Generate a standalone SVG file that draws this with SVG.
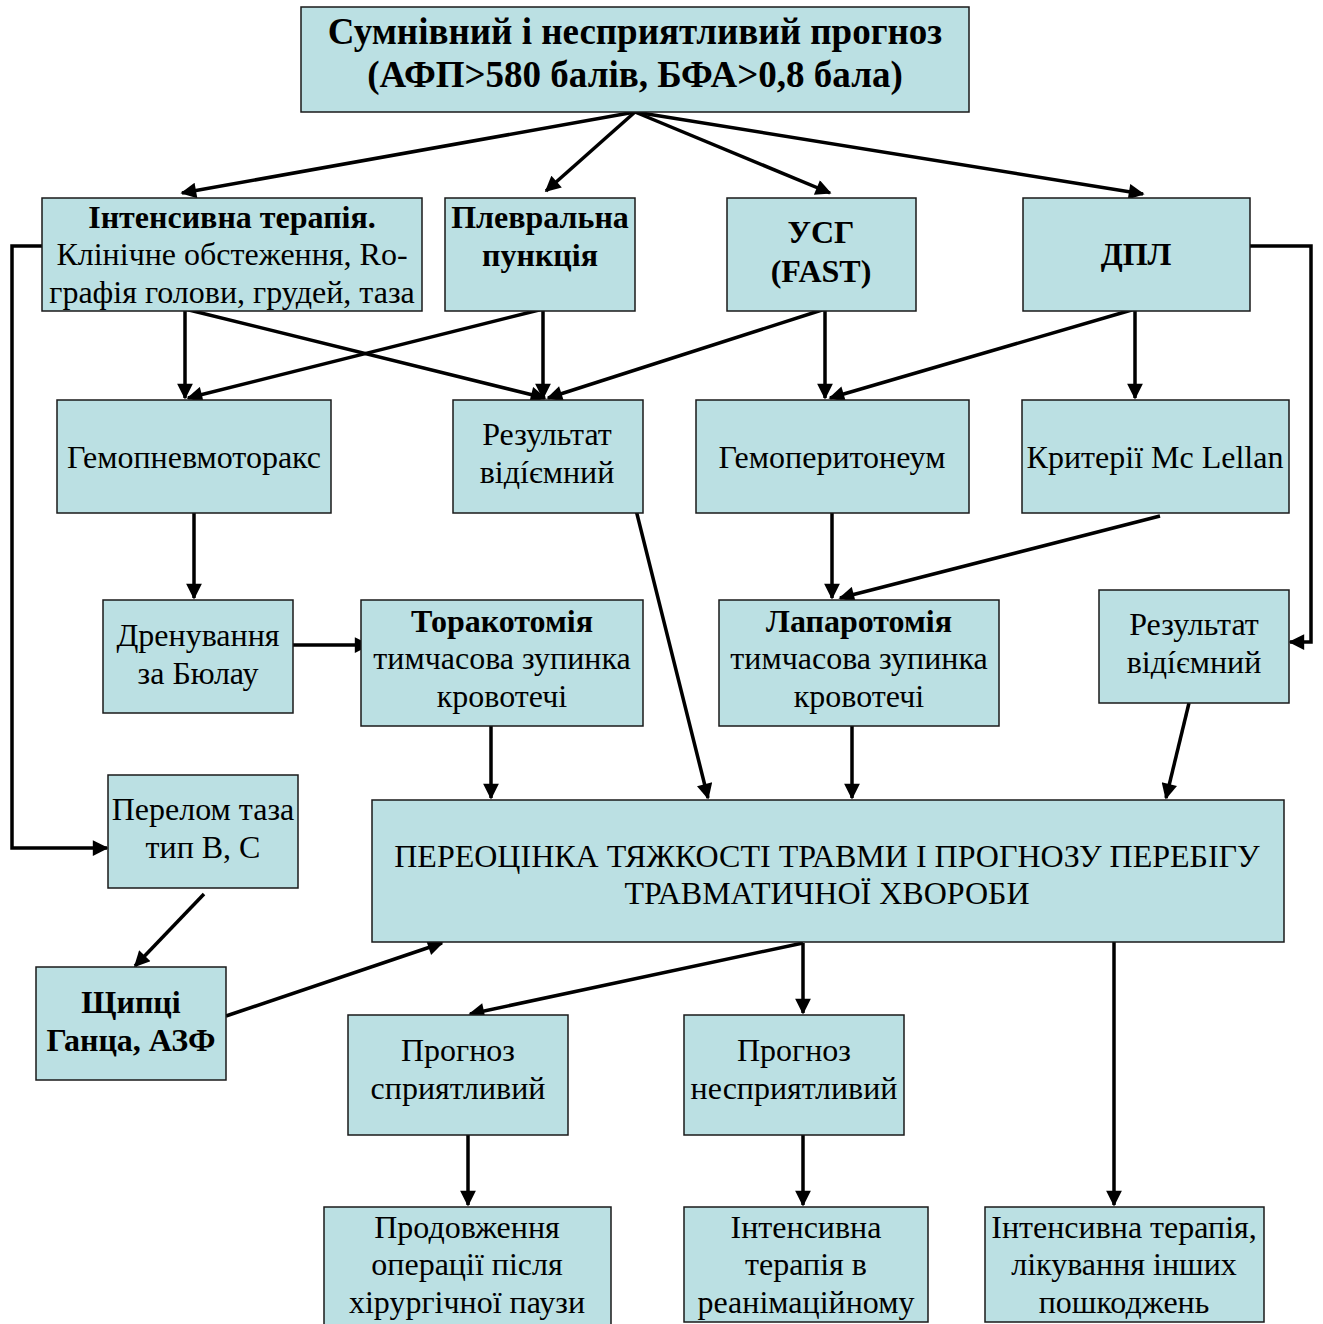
<svg xmlns="http://www.w3.org/2000/svg" width="1323" height="1324" viewBox="0 0 1323 1324">
<style>
.box{fill:#BBE0E3;stroke:#1a1a1a;stroke-width:1.5}
text{font-family:"Liberation Serif","Times New Roman",serif;font-size:32px;fill:#000;text-anchor:middle}
.b{font-weight:bold}
.t{font-size:37px;font-weight:bold}
.c line,.c polyline{stroke:#000;stroke-width:3.5;fill:none;marker-end:url(#ah)}
</style>
<defs>
<marker id="ah" viewBox="0 0 10 10" refX="9" refY="5" markerWidth="5" markerHeight="4.5" orient="auto" markerUnits="strokeWidth">
<path d="M0,0 L10,5 L0,10 z" fill="#000"/>
</marker>
</defs>
<rect width="1323" height="1324" fill="#fff"/>
<g class="c">
<line x1="635" y1="112" x2="182" y2="193"/>
<line x1="635" y1="112" x2="546" y2="191"/>
<line x1="635" y1="112" x2="830" y2="193"/>
<line x1="635" y1="112" x2="1143" y2="194"/>
<line x1="185" y1="309" x2="185" y2="398"/>
<line x1="185" y1="309" x2="545" y2="398"/>
<line x1="543" y1="309" x2="543" y2="398"/>
<line x1="543" y1="309" x2="188" y2="398"/>
<line x1="825" y1="309" x2="825" y2="398"/>
<line x1="825" y1="309" x2="548" y2="398"/>
<line x1="1135" y1="309" x2="1135" y2="398"/>
<line x1="1135" y1="309" x2="830" y2="398"/>
<polyline points="1250,246 1311,246 1311,642 1290,642"/>
<polyline points="42,246 12,246 12,848 107,848"/>
<line x1="194" y1="513" x2="194" y2="598"/>
<line x1="293" y1="645" x2="369" y2="645"/>
<line x1="636" y1="510" x2="708" y2="798"/>
<line x1="491" y1="726" x2="491" y2="798"/>
<line x1="832" y1="513" x2="832" y2="598"/>
<line x1="1160" y1="516" x2="840" y2="598"/>
<line x1="852" y1="726" x2="852" y2="798"/>
<line x1="1189" y1="703" x2="1166" y2="798"/>
<line x1="204" y1="894" x2="135" y2="966"/>
<line x1="226" y1="1016" x2="442" y2="943"/>
<line x1="803" y1="943" x2="470" y2="1014"/>
<line x1="803" y1="943" x2="803" y2="1013"/>
<line x1="1114" y1="938" x2="1114" y2="1205"/>
<line x1="468" y1="1135" x2="468" y2="1205"/>
<line x1="803" y1="1135" x2="803" y2="1205"/>
</g>
<g id="n-top"><rect class="box" x="301" y="7" width="668" height="105"/>
<text class="t" x="635" y="44">Сумнівний і несприятливий прогноз</text>
<text class="t" x="635" y="87">(АФП&gt;580 балів, БФА&gt;0,8 бала)</text></g>
<g id="n-it"><rect class="box" x="42" y="198" width="380" height="113"/>
<text class="b" x="232" y="228">Інтенсивна терапія.</text>
<text x="232" y="265">Клінічне обстеження, Ro-</text>
<text x="232" y="303">графія голови, грудей, таза</text></g>
<g id="n-pp"><rect class="box" x="445" y="198" width="190" height="113"/>
<text class="b" x="540" y="228">Плевральна</text>
<text class="b" x="540" y="266">пункція</text></g>
<g id="n-usg"><rect class="box" x="727" y="198" width="189" height="113"/>
<text class="b" x="821" y="243">УСГ</text>
<text class="b" x="821" y="282">(FAST)</text></g>
<g id="n-dpl"><rect class="box" x="1023" y="198" width="227" height="113"/>
<text class="b" x="1136" y="265">ДПЛ</text></g>
<g id="n-gpt"><rect class="box" x="57" y="400" width="274" height="113"/>
<text x="194" y="468">Гемопневмоторакс</text></g>
<g id="n-res1"><rect class="box" x="453" y="400" width="190" height="113"/>
<text x="547" y="445">Результат</text>
<text x="547" y="483">відíємний</text></g>
<g id="n-gpn"><rect class="box" x="696" y="400" width="273" height="113"/>
<text x="832" y="468">Гемоперитонеум</text></g>
<g id="n-mcl"><rect class="box" x="1022" y="400" width="267" height="113"/>
<text x="1155" y="468">Критерії Mc Lellan</text></g>
<g id="n-dren"><rect class="box" x="103" y="600" width="190" height="113"/>
<text x="198" y="646">Дренування</text>
<text x="198" y="684">за Бюлау</text></g>
<g id="n-tor"><rect class="box" x="361" y="600" width="282" height="126"/>
<text class="b" x="502" y="632">Торакотомія</text>
<text x="502" y="669">тимчасова зупинка</text>
<text x="502" y="707">кровотечі</text></g>
<g id="n-lap"><rect class="box" x="719" y="600" width="280" height="126"/>
<text class="b" x="859" y="632">Лапаротомія</text>
<text x="859" y="669">тимчасова зупинка</text>
<text x="859" y="707">кровотечі</text></g>
<g id="n-res2"><rect class="box" x="1099" y="590" width="190" height="113"/>
<text x="1194" y="635">Результат</text>
<text x="1194" y="673">відíємний</text></g>
<g id="n-per"><rect class="box" x="108" y="775" width="190" height="113"/>
<text x="203" y="820">Перелом таза</text>
<text x="203" y="858">тип В, С</text></g>
<g id="n-reev"><rect class="box" x="372" y="800" width="912" height="142"/>
<text x="827" y="867">ПЕРЕОЦІНКА ТЯЖКОСТІ ТРАВМИ І ПРОГНОЗУ ПЕРЕБІГУ</text>
<text x="827" y="904">ТРАВМАТИЧНОЇ ХВОРОБИ</text></g>
<g id="n-shch"><rect class="box" x="36" y="967" width="190" height="113"/>
<text class="b" x="131" y="1013">Щипці</text>
<text class="b" x="131" y="1051">Ганца, АЗФ</text></g>
<g id="n-pgood"><rect class="box" x="348" y="1015" width="220" height="120"/>
<text x="458" y="1061">Прогноз</text>
<text x="458" y="1099">сприятливий</text></g>
<g id="n-pbad"><rect class="box" x="684" y="1015" width="220" height="120"/>
<text x="794" y="1061">Прогноз</text>
<text x="794" y="1099">несприятливий</text></g>
<g id="n-prod"><rect class="box" x="324" y="1207" width="287" height="125"/>
<text x="467" y="1238">Продовження</text>
<text x="467" y="1275">операції після</text>
<text x="467" y="1313">хірургічної паузи</text></g>
<g id="n-itr"><rect class="box" x="684" y="1207" width="244" height="115"/>
<text x="806" y="1238">Інтенсивна</text>
<text x="806" y="1275">терапія в</text>
<text x="806" y="1313">реанімаційному</text></g>
<g id="n-itl"><rect class="box" x="985" y="1207" width="279" height="115"/>
<text x="1124" y="1238">Інтенсивна терапія,</text>
<text x="1124" y="1275">лікування інших</text>
<text x="1124" y="1313">пошкоджень</text></g>
</svg>
